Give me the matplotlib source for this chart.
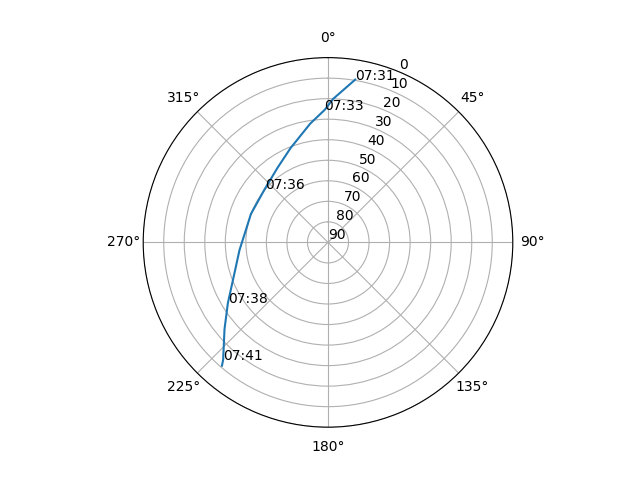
import numpy as np
import matplotlib
matplotlib.use('Agg')
import matplotlib.pyplot as plt

# percorso del satellite: azimut (gradi) ed elevazione (gradi)
azimut = [9.5, 2.1, -1.5, -8.5, -21.7, -34.3, -49.8, -69.8, -95.1, -108.3, -121.2, -130.0, -138.2, -139.3]
elevazione = [9.6, 20.0, 25.5, 31.5, 40.6, 46.2, 49.7, 50.0, 46.7, 42.0, 33.0, 24.2, 13.4, 10.8]
etichette = ['07:31', '', '07:33', '', '', '', '07:36', '', '', '', '07:38', '', '07:41', '']

theta = np.radians(np.array(azimut) % 360)

fig = plt.figure(figsize=(6.4, 4.8), dpi=100)
ax = fig.add_subplot(111, projection='polar')
ax.set_theta_zero_location('N')
ax.set_theta_direction(-1)
ax.plot(theta, elevazione)
for t, e, lab in zip(theta, elevazione, etichette):
    if lab:
        ax.text(t, e, lab)
ax.set_yticks(range(0, 91, 10))
ax.set_ylim(90, 0)
fig.savefig('out.png')
